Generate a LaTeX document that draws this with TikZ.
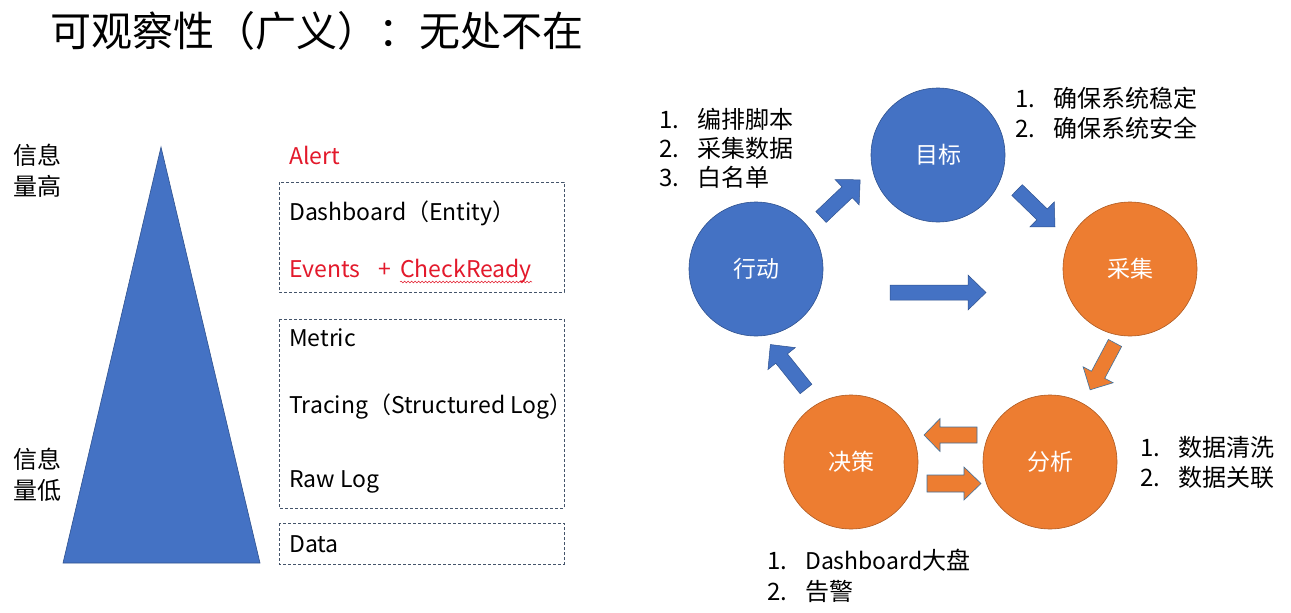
\documentclass[tikz,border=0pt]{standalone}
\usepackage{fontspec}
\setmainfont{Noto Sans CJK SC}
\usetikzlibrary{decorations.pathmorphing}
\definecolor{pblue}{HTML}{4472C4}
\definecolor{pblueline}{HTML}{2F528F}
\definecolor{porange}{HTML}{ED7D31}
\definecolor{porangeline}{HTML}{AE5A21}
\definecolor{arrline}{HTML}{41719C}
\definecolor{pred}{HTML}{E3192B}
\definecolor{boxline}{HTML}{44546A}
% #1 style, #2 tail, #3 angle, #4 length, #5 shaft half width, #6 head half width, #7 head length
\newcommand{\blockarr}[7]{%
  \draw[#1, shift={#2}, rotate=#3] (0,#5) -- ({#4-#7},#5) -- ({#4-#7},#6) -- (#4,0)
    -- ({#4-#7},-#6) -- ({#4-#7},-#5) -- (0,-#5) -- cycle;}
\begin{document}
\begin{tikzpicture}[x=1pt,y=-1pt,
  txt/.style={inner sep=0pt, anchor=base west, font=\fontsize{24}{28}\selectfont},
  ltxt/.style={txt, font=\fontsize{23}{28}\selectfont},
  redtxt/.style={ltxt, text=pred},
  dbox/.style={draw=boxline, line width=0.7pt, dash pattern=on 3pt off 2pt},
  bcirc/.style={circle, minimum size=134pt, inner sep=0pt, fill=pblue, draw=pblueline, line width=0.6pt, text=white, font=\fontsize{23}{26}\selectfont},
  ocirc/.style={bcirc, fill=porange, draw=porangeline},
  barr/.style={fill=pblue, draw=pblueline, line width=0.5pt},
  oarr/.style={fill=porange, draw=arrline, line width=0.6pt}]
\useasboundingbox (0,0) rectangle (1291,613);
\fill[white] (0,0) rectangle (1291,613);

% title
\node[inner sep=0pt, anchor=base west, font=\fontsize{41}{46}\selectfont] (title) at (50,46) {可观察性（广义）：无处不在};

% pyramid
\draw[fill=pblue, draw=pblueline, line width=0.6pt] (161,147) -- (260,563) -- (63,563) -- cycle;
\node[txt] (hi1) at (13,164) {信息};
\node[txt] (hi2) at (13,195) {量高};
\node[txt] (lo1) at (13,468) {信息};
\node[txt] (lo2) at (13,499) {量低};

% left boxes
\node[redtxt] (alert) at (289,164) {Alert};
\draw[dbox] (279,182) rectangle (564,292);
\node[ltxt] (dash) at (289,220) {Dashboard（Entity）};
\node[redtxt] (events) at (289,277) {Events};
\node[redtxt] (plus) at (378,277) {+};
\node[redtxt] (chk) at (400,277) {CheckReady};
\draw[pred, line width=0.5pt, decorate, decoration={snake, amplitude=0.9pt, segment length=3.5pt}]
  ([yshift=-5pt]chk.base west) -- ([yshift=-5pt]chk.base east);
\draw[dbox] (279,319) rectangle (564,508);
\node[ltxt] (metric) at (289,346) {Metric};
\node[ltxt] (tracing) at (289,413) {Tracing（Structured Log）};
\node[ltxt] (rawlog) at (289,487) {Raw Log};
\draw[dbox] (279,523) rectangle (564,564);
\node[ltxt] (data) at (289,552) {Data};

% cycle circles
\node[bcirc] (mubiao) at (938,155) {目标};
\node[bcirc] (xingdong) at (756,269) {行动};
\node[ocirc] (caiji) at (1130,269) {采集};
\node[ocirc] (juece) at (851,462) {决策};
\node[ocirc] (fenxi) at (1050,462) {分析};

% block arrows
\blockarr{barr}{(821,217)}{43.5}{54}{7.5}{17.5}{18}
\blockarr{barr}{(1017,190)}{-44.2}{53}{7.5}{17.5}{18}
\blockarr{barr}{(890,292.5)}{0}{96}{7.5}{17.5}{18}
\blockarr{oarr}{(1115,343)}{-118}{53}{7.5}{17}{17}
\blockarr{barr}{(806,389)}{128.7}{57}{7.5}{17.5}{18}
\blockarr{oarr}{(977,435)}{180}{53}{8}{16.5}{16}
\blockarr{oarr}{(927,483.5)}{0}{54}{8.5}{16.5}{17}

% lists
\node[txt] (a1n) at (659,128) {1.};
\node[txt] (a1) at (697,128) {编排脚本};
\node[txt] (a2n) at (659,157) {2.};
\node[txt] (a2) at (697,157) {采集数据};
\node[txt] (a3n) at (659,186) {3.};
\node[txt] (a3) at (697,186) {白名单};

\node[txt] (g1n) at (1015,107) {1.};
\node[txt] (g1) at (1053,107) {确保系统稳定};
\node[txt] (g2n) at (1015,137) {2.};
\node[txt] (g2) at (1053,137) {确保系统安全};

\node[txt] (f1n) at (1140,456) {1.};
\node[txt] (f1) at (1178,456) {数据清洗};
\node[txt] (f2n) at (1140,486) {2.};
\node[txt] (f2) at (1178,486) {数据关联};

\node[txt] (d1n) at (767,569) {1.};
\node[txt] (d1) at (805,569) {{\fontsize{23}{28}\selectfont Dashboard}大盘};
\node[txt] (d2n) at (767,600) {2.};
\node[txt] (d2) at (805,600) {告警};
\end{tikzpicture}
\end{document}
